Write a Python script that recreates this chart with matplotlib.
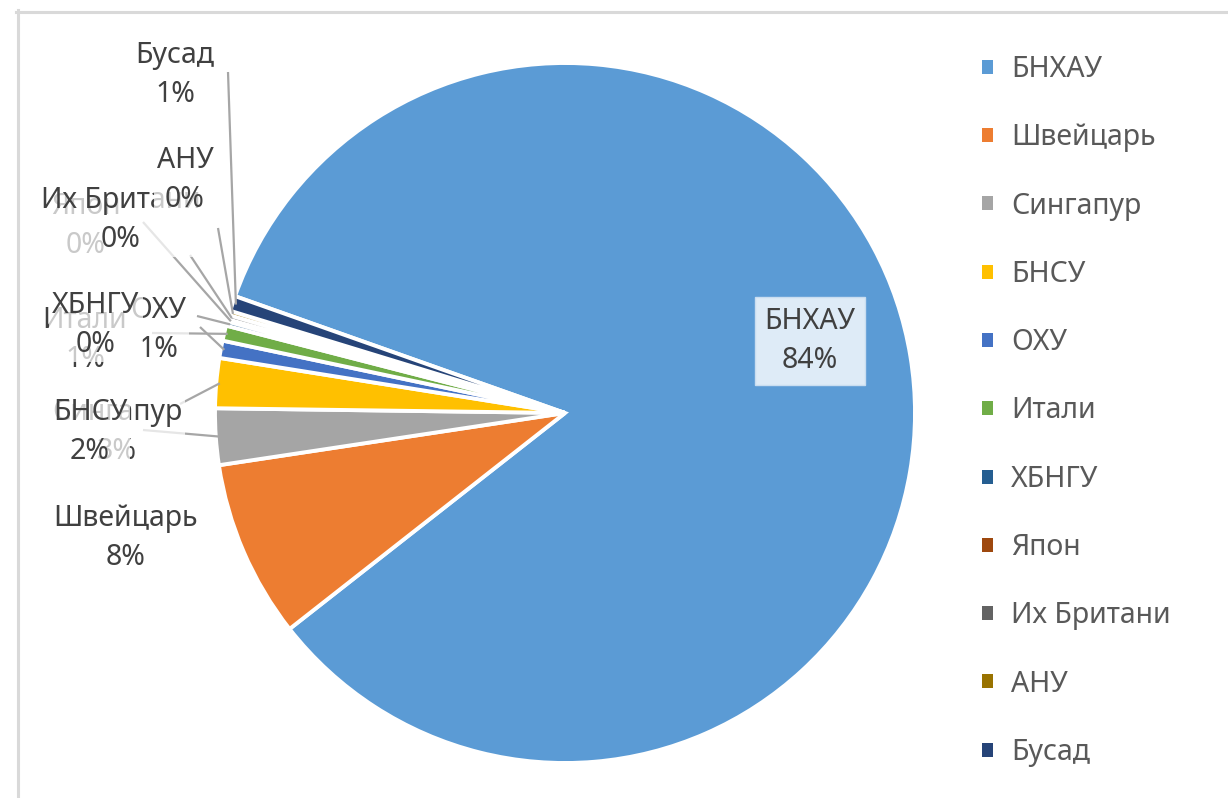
import matplotlib
matplotlib.use("Agg")
import matplotlib.pyplot as plt
import numpy as np
from matplotlib.lines import Line2D

# ---- data ----
categories = ["БНХАУ", "Швейцарь", "Сингапур", "БНСУ", "ОХУ", "Итали",
              "ХБНГУ", "Япон", "Их Британи", "АНУ", "Бусад"]
values = [84.0, 8.2, 2.6, 2.3, 0.8, 0.7, 0.2, 0.1, 0.2, 0.2, 0.7]
colors = ["#5B9BD5", "#ED7D31", "#A5A5A5", "#FFC000", "#4472C4", "#70AD47",
          "#255E91", "#9E480E", "#636363", "#997300", "#264478"]

FONT = ["Noto Sans", "DejaVu Sans"]
plt.rcParams['font.family'] = FONT

W, H = 1228, 798
CX, CY, R = 565, 413, 350

def P(x, y):
    return ((x - CX) / R, (CY - y) / R)

fig = plt.figure(figsize=(W / 100, H / 100), dpi=100)
ax = fig.add_axes([0, 0, 1, 1])
ax.axis("off")

START = 160.5
wedges, _ = ax.pie(values, colors=colors, startangle=START, counterclock=False,
                   radius=1.0, center=(0, 0), normalize=True,
                   wedgeprops=dict(edgecolor="white", linewidth=2.8))
ax.set_xlim(-CX / R, (W - CX) / R)
ax.set_ylim(-(H - CY) / R, CY / R)
ax.set_aspect("auto")

total = sum(values)
pct = [v / total * 100 for v in values]

# label layout (pixel positions of label block centres)
label_pos = {
    "Швейцарь": (126, 538),
    "Сингапур": (117, 432),
    "БНСУ": (90, 432),
    "ОХУ": (158, 330),
    "Итали": (85, 340),
    "ХБНГУ": (96, 325),
    "Япон": (86, 226),
    "Их Британи": (121, 220),
    "АНУ": (185, 180),
    "Бусад": (175, 75),
}
leader_start = {
    "Бусад": (228, 72),
    "АНУ": (218, 228),
    "Их Британи": (190, 255),
    "Япон": (143, 222),
    "ХБНГУ": (197, 316),
    "Итали": (152, 333),
    "ОХУ": (200, 327),
    "БНСУ": (180, 404),
    "Сингапур": (143, 430),
}

# leader lines
for w, name in zip(wedges, categories):
    if name not in leader_start:
        continue
    mid = np.deg2rad((w.theta1 + w.theta2) / 2)
    ex, ey = np.cos(mid) * 0.99, np.sin(mid) * 0.99
    sx, sy = P(*leader_start[name])
    ax.plot([sx, ex], [sy, ey], color="#A6A6A6", lw=1.6, zorder=5,
            solid_capstyle="butt")

# main label inside
mx, my = P(810, 341)
ax.text(mx, my, f"{categories[0]}\n{pct[0]:.0f}%", ha="center", va="center",
        fontsize=20.5, color="#404040", linespacing=1.45, zorder=10,
        bbox=dict(boxstyle="square,pad=0.35", facecolor="#DEEBF7",
                  edgecolor="#C9DDF0", linewidth=1))

# outer labels drawn in series order, each with semi-opaque white box
for i, name in enumerate(categories[1:], start=1):
    x, y = P(*label_pos[name])
    ax.text(x, y, f"{name}\n{pct[i]:.0f}%", ha="center", va="center",
            fontsize=20.5, color="#404040", linespacing=1.45, zorder=10 + i,
            bbox=dict(boxstyle="square,pad=0.1", facecolor="white",
                      edgecolor="none", alpha=0.72))

# legend
leg = ax.legend(wedges, categories, loc="upper left",
                bbox_to_anchor=(982 / W, 1 - 55 / H), bbox_transform=fig.transFigure,
                frameon=False, fontsize=20.5, handlelength=0.38, handleheight=0.38,
                handletextpad=0.65, labelspacing=1.38, borderpad=0, borderaxespad=0)
for t in leg.get_texts():
    t.set_color("#595959")
for h in leg.legend_handles:
    h.set_edgecolor("none")

# chart area border (left and top)
fig.add_artist(Line2D([17.5 / W, 17.5 / W], [0, 1 - 10 / H], transform=fig.transFigure,
                      color="#D9D9D9", lw=2.2))
fig.add_artist(Line2D([16 / W, 1], [1 - 11.5 / H, 1 - 11.5 / H], transform=fig.transFigure,
                      color="#D9D9D9", lw=2.2))

fig.savefig("out.png", dpi=100, facecolor="white")
